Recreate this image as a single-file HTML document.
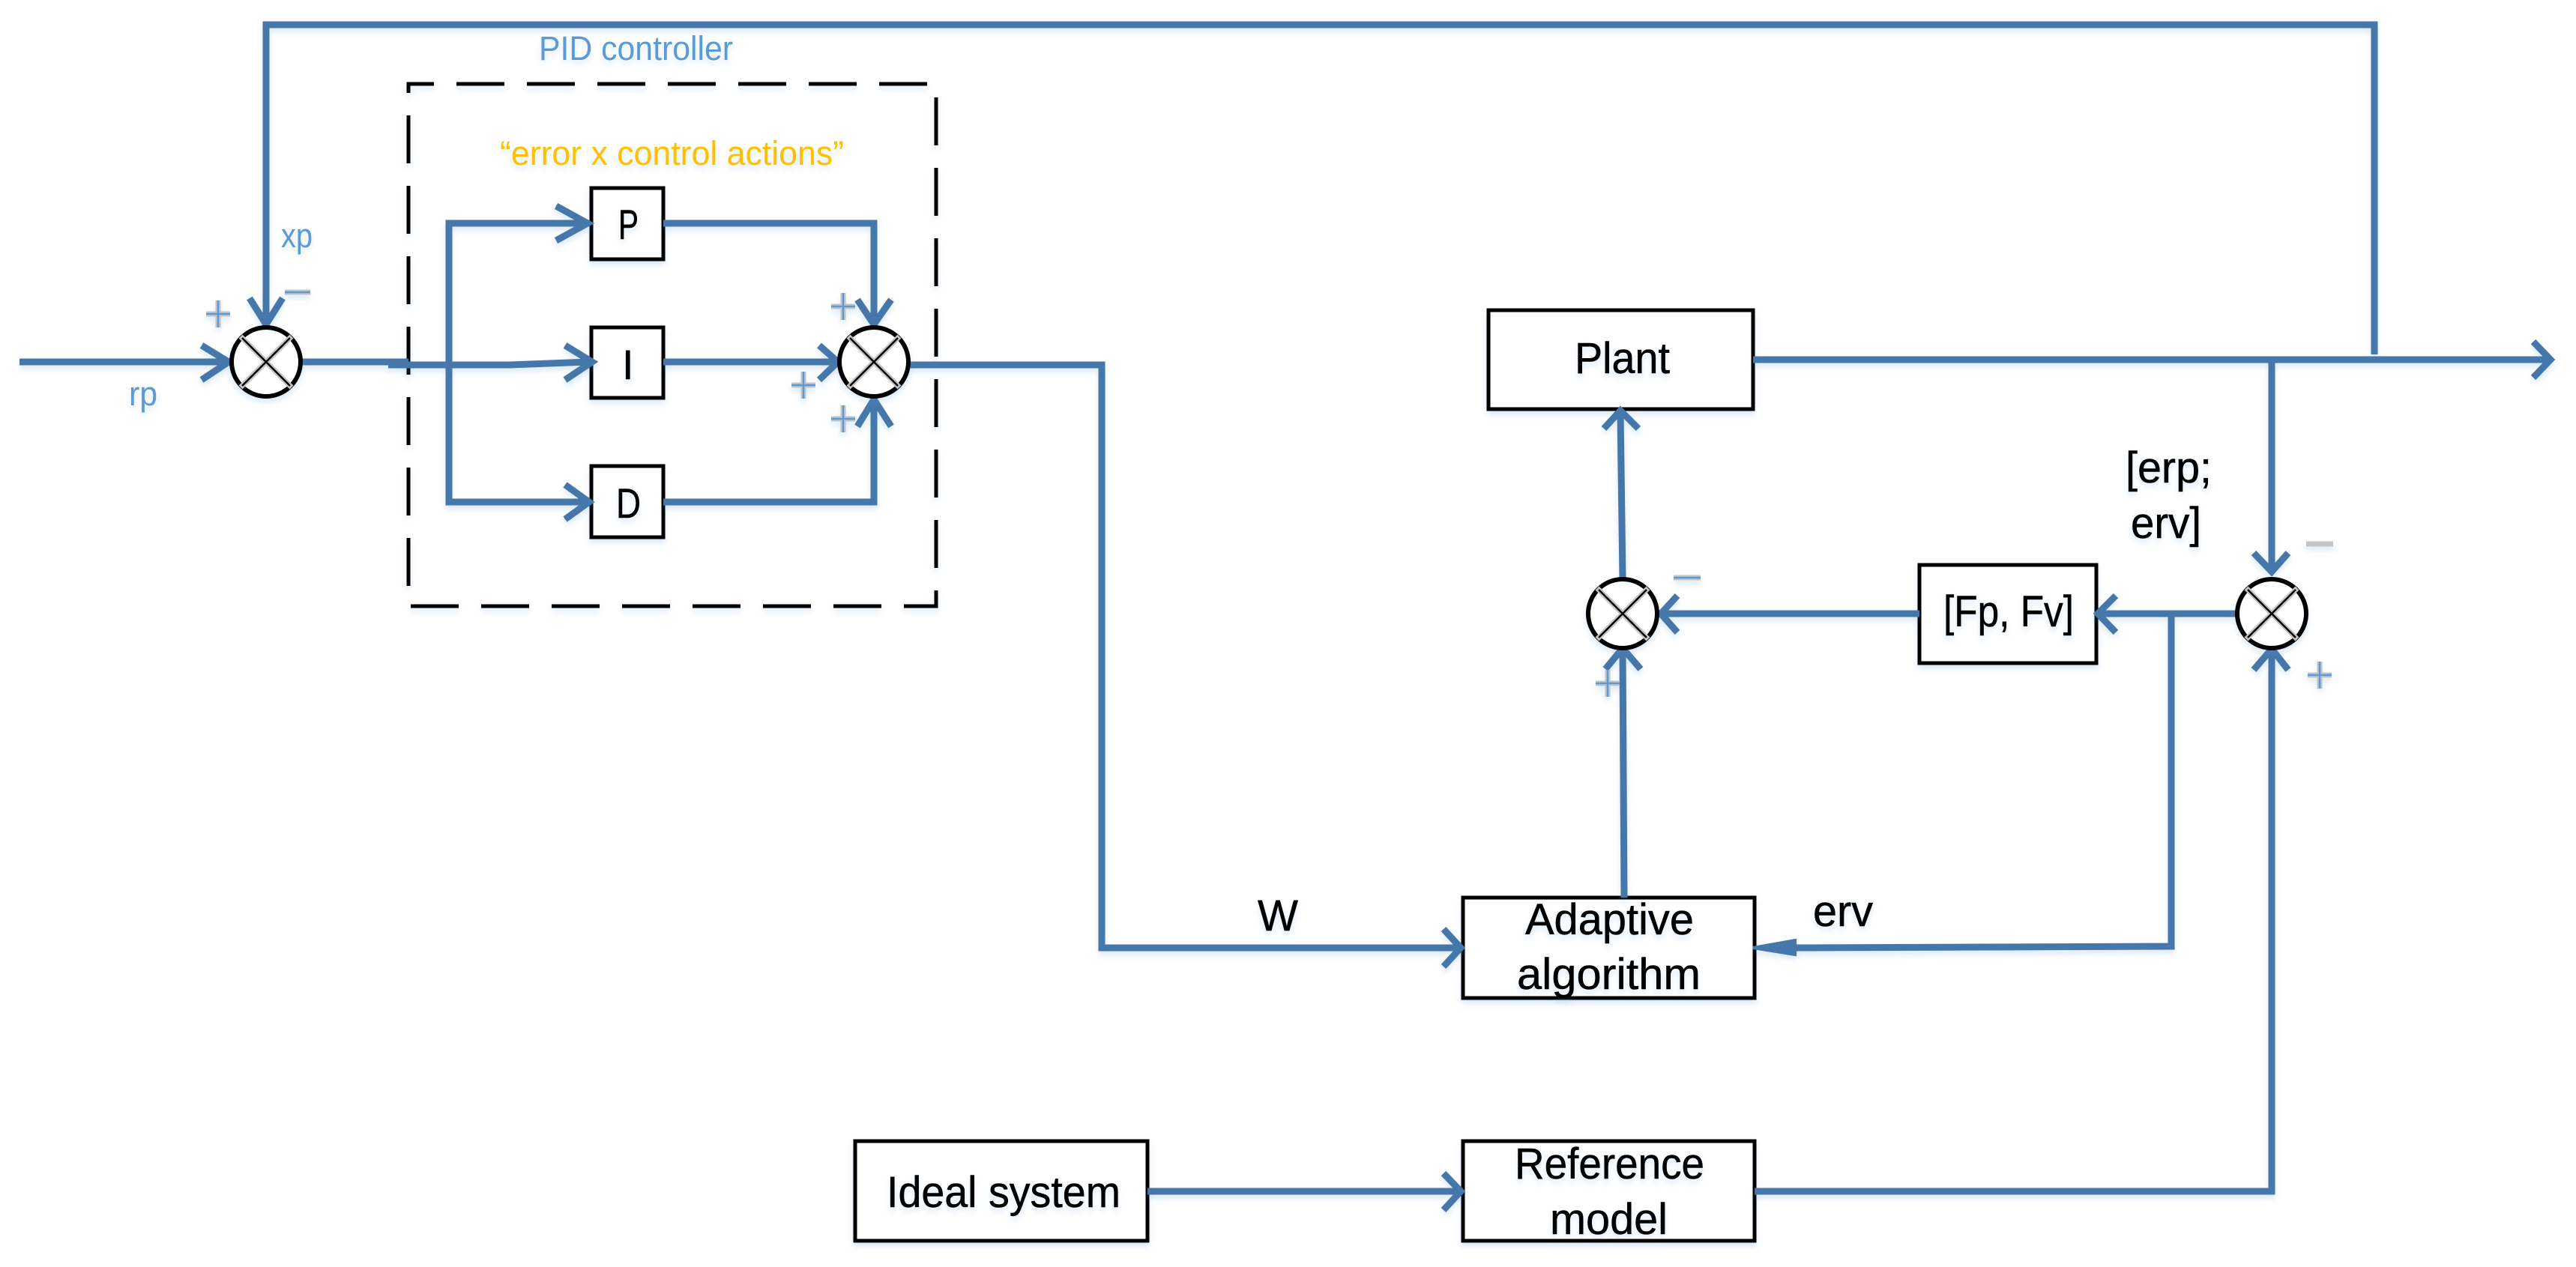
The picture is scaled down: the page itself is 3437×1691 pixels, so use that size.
<!DOCTYPE html>
<html><head><meta charset="utf-8"><style>
html,body{margin:0;padding:0;background:#fff;width:3437px;height:1691px;overflow:hidden}
svg{display:block}
text{font-family:"Liberation Sans",sans-serif}
.k{font-size:58px;fill:#000;stroke:#000;stroke-width:.5}
.b{font-size:45px;fill:#5b9bd5}
.l{fill:none;stroke:#4677ab;stroke-width:9;stroke-linejoin:miter}
.box{fill:#fff;stroke:#000;stroke-width:5}
.sh{filter:drop-shadow(0 5px 4px rgba(91,155,213,.22))}
.c{fill:#fff;stroke:#000;stroke-width:6}
.xg{stroke:#c4c4c4;stroke-width:7}
.xk{stroke:#000;stroke-width:2.5}
.sg{stroke:#c4c4c4;stroke-width:7;fill:none}
.sb{stroke:#5b9bd5;stroke-width:2.5;fill:none}
</style></head><body>
<svg width="3437" height="1691" viewBox="0 0 3437 1691" xmlns="http://www.w3.org/2000/svg">
<rect width="3437" height="1691" fill="#fff"/>

<!-- dashed box -->
<rect x="545" y="112" width="704" height="697" fill="none" stroke="#000" stroke-width="5" stroke-dasharray="64 30" stroke-dashoffset="30" class="sh"/>

<g class="sh">
<!-- boxes -->
<rect class="box" x="789" y="251" width="96" height="95"/>
<rect class="box" x="789" y="437" width="96" height="94"/>
<rect class="box" x="789" y="622" width="96" height="95"/>
<rect class="box" x="1986" y="414" width="353" height="132"/>
<rect class="box" x="2561" y="754" width="236" height="131"/>
<rect class="box" x="1952" y="1198" width="389" height="134"/>
<rect class="box" x="1952" y="1523" width="389" height="133"/>
<rect class="box" x="1141" y="1523" width="390" height="133"/>
</g>

<g class="sh">
<!-- connectors -->
<path class="l" d="M3168 473V33H355V432"/>
<path class="l" d="M26 483H303"/>
<path class="l" d="M403 483H545"/>
<path class="l" d="M518 487H680L785 483"/>
<path class="l" d="M785 298H599V670H783"/>
<path class="l" d="M885 298H1166V431"/>
<path class="l" d="M885 483H1115"/>
<path class="l" d="M885 670H1166V535"/>
<path class="l" d="M1212 487H1470V1265H1946"/>
<path class="l" d="M2339 480H3400"/>
<path class="l" d="M3031 480V761"/>
<path class="l" d="M2165 771L2162 550"/>
<path class="l" d="M2167 1198L2165 867"/>
<path class="l" d="M2561 819H2218"/>
<path class="l" d="M2983 819H2801"/>
<path class="l" d="M2897 819V1263L2390 1265"/>
<path class="l" d="M1531 1590H1946"/>
<path class="l" d="M2341 1590H3031V868"/>
<!-- arrowheads -->
<path class="l" d="M269 461L305 483L269 507"/>
<path class="l" d="M333 398L355 433L377 398"/>
<path class="l" d="M742 275L784 298L742 321"/>
<path class="l" d="M754 461L790 483L754 507"/>
<path class="l" d="M754 647L786 670L754 693"/>
<path class="l" d="M1144 400L1166 433L1189 400"/>
<path class="l" d="M1093 461L1118 483L1093 507"/>
<path class="l" d="M1144 569L1166 533L1189 569"/>
<path class="l" d="M1926 1240L1949 1265L1926 1290"/>
<path class="l" d="M1926 1566L1949 1590L1926 1615"/>
<path class="l" d="M3380 456L3403 480L3380 504"/>
<path class="l" d="M3007 738L3031 763L3053 738"/>
<path class="l" d="M2140 572L2162 548L2186 572"/>
<path class="l" d="M2142 893L2165 865L2189 893"/>
<path class="l" d="M2238 795L2216 819L2238 844"/>
<path class="l" d="M2823 795L2799 819L2823 844"/>
<path class="l" d="M3007 894L3031 866L3053 894"/>
<path d="M2339 1265L2395 1255V1274Z" fill="#4677ab" stroke="#4677ab" stroke-width="4"/>
</g>

<!-- sum junctions -->
<g class="sh">
<g transform="translate(355 483)"><circle class="c" r="46"/><path class="xg" d="M-34 -34L34 34M-34 34L34 -34"/><path class="xk" d="M-32 -32L32 32M-32 32L32 -32"/></g>
<g transform="translate(1166 483)"><circle class="c" r="46"/><path class="xg" d="M-34 -34L34 34M-34 34L34 -34"/><path class="xk" d="M-32 -32L32 32M-32 32L32 -32"/></g>
<g transform="translate(2165 819)"><circle class="c" r="46"/><path class="xg" d="M-34 -34L34 34M-34 34L34 -34"/><path class="xk" d="M-32 -32L32 32M-32 32L32 -32"/></g>
<g transform="translate(3031 819)"><circle class="c" r="46"/><path class="xg" d="M-34 -34L34 34M-34 34L34 -34"/><path class="xk" d="M-32 -32L32 32M-32 32L32 -32"/></g>
</g>

<!-- sign marks -->
<g class="sh">
<path class="sg" d="M275 419H307M291 401V437"/><path class="sb" d="M275 419H307M291 401V437"/>
<path class="sg" d="M380 390H414"/><path class="sb" d="M380 390H414"/>
<path class="sg" d="M1109 409H1141M1125 391V427"/><path class="sb" d="M1109 409H1141M1125 391V427"/>
<path class="sg" d="M1056 514H1088M1072 496V532"/><path class="sb" d="M1056 514H1088M1072 496V532"/>
<path class="sg" d="M1109 559H1141M1125 541V577"/><path class="sb" d="M1109 559H1141M1125 541V577"/>
<path class="sg" d="M2129 912H2161M2145 894V930"/><path class="sb" d="M2129 912H2161M2145 894V930"/>
<path class="sg" d="M2233 771H2269"/><path class="sb" d="M2233 771H2269"/>
<path class="sg" d="M3077 726H3113"/>
<path class="sg" d="M3079 901H3111M3095 883V919"/><path class="sb" d="M3079 901H3111M3095 883V919"/>
</g>

<!-- labels -->
<g class="sh">
<text class="b" x="719" y="80" textLength="259" lengthAdjust="spacingAndGlyphs">PID controller</text>
<text class="b" x="667" y="220" textLength="459" lengthAdjust="spacingAndGlyphs" style="fill:#ffc000">“error x control actions”</text>
<text class="b" x="172" y="541" textLength="38" lengthAdjust="spacingAndGlyphs">rp</text>
<text class="b" x="375" y="330" textLength="42" lengthAdjust="spacingAndGlyphs">xp</text>
<text class="k" x="825" y="319" textLength="27" lengthAdjust="spacingAndGlyphs" style="font-size:56px">P</text>
<text class="k" x="830" y="506" style="font-size:56px">I</text>
<text class="k" x="822" y="691" textLength="33" lengthAdjust="spacingAndGlyphs" style="font-size:56px">D</text>
<text class="k" x="2101" y="498" textLength="127" lengthAdjust="spacingAndGlyphs">Plant</text>
<text class="k" x="2593" y="836" textLength="174" lengthAdjust="spacingAndGlyphs">[Fp, Fv]</text>
<text class="k" x="2836" y="644" textLength="115" lengthAdjust="spacingAndGlyphs">[erp;</text>
<text class="k" x="2843" y="718" textLength="94" lengthAdjust="spacingAndGlyphs">erv]</text>
<text class="k" x="1678" y="1242" textLength="54" lengthAdjust="spacingAndGlyphs">W</text>
<text class="k" x="2419" y="1236" textLength="80" lengthAdjust="spacingAndGlyphs">erv</text>
<text class="k" x="2035" y="1247" textLength="225" lengthAdjust="spacingAndGlyphs">Adaptive</text>
<text class="k" x="2024" y="1320" textLength="245" lengthAdjust="spacingAndGlyphs">algorithm</text>
<text class="k" x="1183" y="1611" textLength="312" lengthAdjust="spacingAndGlyphs">Ideal system</text>
<text class="k" x="2021" y="1573" textLength="253" lengthAdjust="spacingAndGlyphs">Reference</text>
<text class="k" x="2068" y="1647" textLength="157" lengthAdjust="spacingAndGlyphs">model</text>
</g>
</svg>
</body></html>
